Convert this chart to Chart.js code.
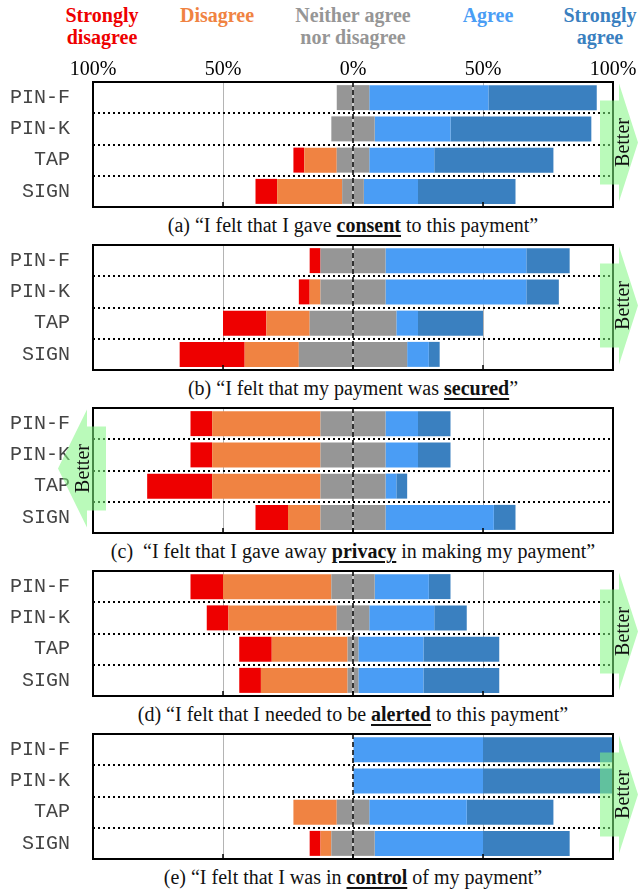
<!DOCTYPE html>
<html><head><meta charset="utf-8">
<script src="https://cdn.jsdelivr.net/npm/chart.js@4"></script>
<style>
  body{margin:0;width:640px;height:890px;background:#fff;position:relative;overflow:hidden;font-family:"Liberation Serif",serif}
  .hd{position:absolute;top:4px;width:170px;margin-left:-85px;text-align:center;font-weight:bold;font-size:20px;line-height:22px}
  .cap{position:absolute;left:73px;width:560px;text-align:center;font-size:20px;line-height:22px;white-space:pre;color:#111}
  .cap b{text-decoration:underline;text-decoration-thickness:2px;text-underline-offset:3px}
  .pnl{position:absolute;left:0}
</style></head><body>
<script>
/* Likert responses, 24 participants per payment method */
const RESPONDENTS = 24;
const ROWS = ['PIN-F', 'PIN-K', 'TAP', 'SIGN'];
const LEVELS = ['Strongly disagree', 'Disagree', 'Neither agree nor disagree', 'Agree', 'Strongly agree'];
const COLORS = ['#ee0000', '#f08342', '#969696', '#4a9df5', '#3a80c0'];
const TICKS = [-100, -50, 0, 50, 100];

// counts per row: PIN-F, PIN-K, TAP, SIGN
const consent = { sd:[0,0,1,2],  d:[0,0,3,6],    n:[3,4,3,2],  a:[11,7,6,5],   sa:[10,13,11,9] };
const secured = { sd:[1,1,4,6],  d:[0,1,4,5],    n:[6,6,8,10], a:[13,13,2,2],  sa:[4,3,6,1] };
const privacy = { sd:[2,2,6,3],  d:[10,10,10,3], n:[6,6,6,6],  a:[3,3,1,10],   sa:[3,3,1,2] };
const alerted = { sd:[3,2,3,2],  d:[10,10,7,8],  n:[4,3,1,1],  a:[5,6,6,6],    sa:[2,3,7,7] };
const control = { sd:[0,0,0,1],  d:[0,0,4,1],    n:[0,0,3,4],  a:[12,12,9,10], sa:[12,12,8,8] };

const HEAD = [['Strongly','disagree'], ['Disagree'], ['Neither agree','nor disagree'], ['Agree'], ['Strongly','agree']];
const HEAD_X = [102, 217, 353, 488, 600];

const PANELS = [
  { data: consent, top: 82,  dir: 'right', cap: '(a) “I felt that I gave <b>consent</b> to this payment”' },
  { data: secured, top: 245, dir: 'right', cap: '(b) “I felt that my payment was <b>secured</b>”' },
  { data: privacy, top: 408, dir: 'left',  cap: '(c)  “I felt that I gave away <b>privacy</b> in making my payment”' },
  { data: alerted, top: 571, dir: 'right', cap: '(d) “I felt that I needed to be <b>alerted</b> to this payment”' },
  { data: control, top: 734, dir: 'right', cap: '(e) “I felt that I was in <b>control</b> of my payment”' },
];
const FRAME_H = 125;

const pct = (arr, sign = 1) => arr.map((v) => sign * v / RESPONDENTS * 100);

// header legend
HEAD.forEach((lines, i) => {
  const d = document.createElement('div');
  d.className = 'hd';
  d.style.left = HEAD_X[i] + 'px';
  d.style.color = COLORS[i];
  d.innerHTML = lines.join('<br>');
  document.body.appendChild(d);
});

// frame, dashed zero line and the "Better" arrow
const framePlugin = {
  id: 'frame',
  afterDatasetsDraw(chart) {
    const { ctx, chartArea: a, scales: { x } } = chart;
    ctx.save();
    const x0 = x.getPixelForValue(0);
    ctx.strokeStyle = '#000'; ctx.lineWidth = 1.5; ctx.setLineDash([5, 3]);
    ctx.beginPath(); ctx.moveTo(x0, a.top); ctx.lineTo(x0, a.bottom); ctx.stroke();
    ctx.setLineDash([]);
    [-50, 0, 50].forEach((v) => {
      const p = x.getPixelForValue(v);
      ctx.beginPath(); ctx.moveTo(p, a.bottom); ctx.lineTo(p, a.bottom - 5); ctx.stroke();
    });
    ctx.lineWidth = 2;
    ctx.strokeRect(a.left, a.top, a.right - a.left, a.bottom - a.top);
    ctx.restore();
  },
  afterDraw(chart, args, opts) {
    const { ctx, chartArea: a } = chart;
    const cy = (a.top + a.bottom) / 2 - 2;
    const s = opts.dir === 'left' ? -1 : 1;
    const edge = s > 0 ? a.right : a.left;
    const b0 = edge - s * 13, b1 = edge + s * 6, tip = edge + s * (s > 0 ? 25 : 35);
    ctx.save();
    ctx.fillStyle = 'rgba(130,245,130,0.55)';
    ctx.beginPath();
    ctx.moveTo(b0, cy - 42); ctx.lineTo(b1, cy - 42); ctx.lineTo(b1, cy - 59);
    ctx.lineTo(tip, cy); ctx.lineTo(b1, cy + 59); ctx.lineTo(b1, cy + 42);
    ctx.lineTo(b0, cy + 42); ctx.closePath(); ctx.fill();
    ctx.translate(s > 0 ? edge + 10 : edge - 10, cy);
    ctx.rotate(-Math.PI / 2);
    ctx.fillStyle = '#111'; ctx.font = '20px "Liberation Serif"';
    ctx.textAlign = 'center'; ctx.textBaseline = 'middle';
    ctx.fillText('Better', 0, 1);
    ctx.restore();
  }
};

function drawPanel(p, i) {
  const topPad = i === 0 ? 30 : 4, botPad = 4;
  const wrap = document.createElement('div');
  wrap.className = 'pnl';
  wrap.style.top = (p.top - topPad) + 'px';
  wrap.innerHTML = `<canvas width="640" height="${topPad + FRAME_H + botPad}"></canvas>`;
  document.body.appendChild(wrap);

  const cap = document.createElement('div');
  cap.className = 'cap';
  cap.style.top = (p.top + FRAME_H + 7) + 'px';
  cap.innerHTML = p.cap;
  document.body.appendChild(cap);

  const d = p.data;
  const half = pct(d.n).map((v) => v / 2);
  const ds = (label, data, color) => ({ label, data, backgroundColor: color, borderWidth: 0,
    barPercentage: 0.8, categoryPercentage: 1 });

  new Chart(wrap.querySelector('canvas'), {
    type: 'bar',
    data: {
      labels: ROWS,
      datasets: [
        // negative side stacks outward from zero
        ds(LEVELS[2], half.map((v) => -v), COLORS[2]),
        ds(LEVELS[1], pct(d.d, -1), COLORS[1]),
        ds(LEVELS[0], pct(d.sd, -1), COLORS[0]),
        ds(LEVELS[2], half, COLORS[2]),
        ds(LEVELS[3], pct(d.a), COLORS[3]),
        ds(LEVELS[4], pct(d.sa), COLORS[4]),
      ]
    },
    plugins: [framePlugin],
    options: {
      responsive: false, animation: false, devicePixelRatio: 1, indexAxis: 'y',
      layout: { padding: { left: 0, right: 27, top: 0, bottom: botPad } },
      plugins: { legend: { display: false }, tooltip: { enabled: false }, frame: { dir: p.dir } },
      scales: {
        x: {
          type: 'linear', position: 'top', stacked: true, min: -100, max: 100,
          afterBuildTicks: (s) => { s.ticks = TICKS.map((value) => ({ value })); },
          ticks: { display: i === 0, callback: (v) => Math.abs(v) + '%', color: '#000', padding: 0,
            maxRotation: 0, autoSkip: false, font: { family: 'Liberation Serif', size: 20 } },
          grid: { drawTicks: false, lineWidth: 1,
            color: (c) => (Math.abs(c.tick.value) === 50 ? '#b4b4b4' : 'rgba(0,0,0,0)') },
          border: { display: false },
          afterFit: (s) => { s.height = topPad; s.paddingLeft = 0; s.paddingRight = 0; }
        },
        y: {
          type: 'category', stacked: true,
          ticks: { color: '#444', padding: 23, font: { family: 'Liberation Mono', size: 20 } },
          grid: { drawTicks: false, offset: true, color: '#000', lineWidth: 2 },
          border: { display: false, dash: [2, 3] },
          afterFit: (s) => { s.width = 93; s.paddingTop = 0; s.paddingBottom = 0; }
        }
      }
    }
  });
}

PANELS.forEach(drawPanel);
</script>
</body></html>
